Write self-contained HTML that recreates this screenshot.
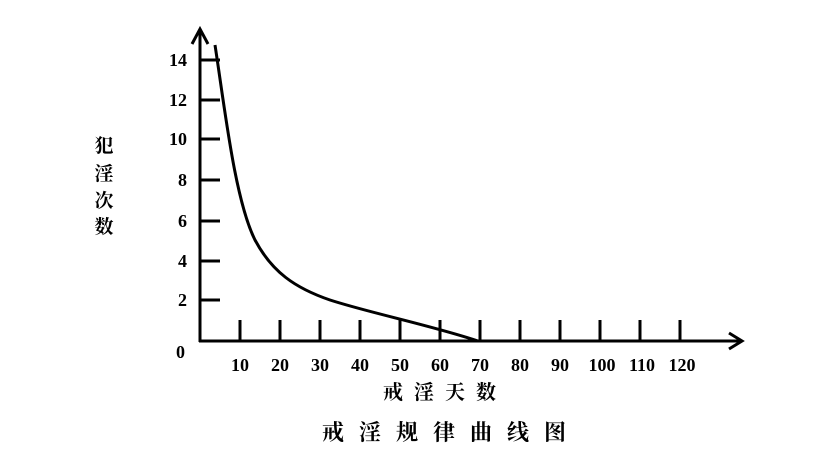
<!DOCTYPE html>
<html><head><meta charset="utf-8"><style>
body{margin:0;background:#fff}
svg{display:block}
text{font-family:"Liberation Serif","Noto Serif CJK SC",serif;fill:#000;font-weight:bold}
</style></head><body>
<svg width="819" height="460" viewBox="0 0 819 460" xmlns="http://www.w3.org/2000/svg">
<g stroke="#000" stroke-width="3" fill="none">
<line x1="200" y1="30" x2="200" y2="342"/>
<line x1="199" y1="341" x2="740" y2="341"/>
<polyline points="192,44 200,29 208,44"/>
<polyline points="729,333 742,341 729,349"/>
<g>
<line x1="200" y1="60" x2="220" y2="60"/><line x1="200" y1="100" x2="220" y2="100"/>
<line x1="200" y1="139" x2="220" y2="139"/><line x1="200" y1="180" x2="220" y2="180"/>
<line x1="200" y1="221" x2="220" y2="221"/><line x1="200" y1="261" x2="220" y2="261"/>
<line x1="200" y1="300" x2="220" y2="300"/>
</g>
<g>
<line x1="240" y1="320" x2="240" y2="341"/><line x1="280" y1="320" x2="280" y2="341"/>
<line x1="320" y1="320" x2="320" y2="341"/><line x1="360" y1="320" x2="360" y2="341"/>
<line x1="400" y1="320" x2="400" y2="341"/><line x1="440" y1="320" x2="440" y2="341"/>
<line x1="480" y1="320" x2="480" y2="341"/><line x1="520" y1="320" x2="520" y2="341"/>
<line x1="560" y1="320" x2="560" y2="341"/><line x1="600" y1="320" x2="600" y2="341"/>
<line x1="640" y1="320" x2="640" y2="341"/><line x1="680" y1="320" x2="680" y2="341"/>
</g>
<path d="M215,45 C225,110 235,200 255,240 C272,272 295,288 330,300 C370,313 430,325 478,341"/>
</g>
<g font-size="18" text-anchor="end">
<text x="187" y="66">14</text><text x="187" y="106">12</text><text x="187" y="145">10</text>
<text x="187" y="186">8</text><text x="187" y="227">6</text><text x="187" y="267">4</text>
<text x="187" y="306">2</text><text x="185" y="358">0</text>
</g>
<g font-size="18" text-anchor="middle">
<text x="240" y="371">10</text><text x="280" y="371">20</text><text x="320" y="371">30</text>
<text x="360" y="371">40</text><text x="400" y="371">50</text><text x="440" y="371">60</text>
<text x="480" y="371">70</text><text x="520" y="371">80</text><text x="560" y="371">90</text>
<text x="602" y="371">100</text><text x="642" y="371">110</text><text x="682" y="371">120</text>
</g>
<g font-size="19" text-anchor="middle">
<text x="104" y="152">犯</text><text x="104" y="180">淫</text><text x="104" y="207">次</text><text x="104" y="233">数</text>
</g>
<text x="383" y="399" font-size="20" letter-spacing="11">戒淫天数</text>
<text x="322" y="440" font-size="22" letter-spacing="15">戒淫规律曲线图</text>
</svg>
</body></html>
